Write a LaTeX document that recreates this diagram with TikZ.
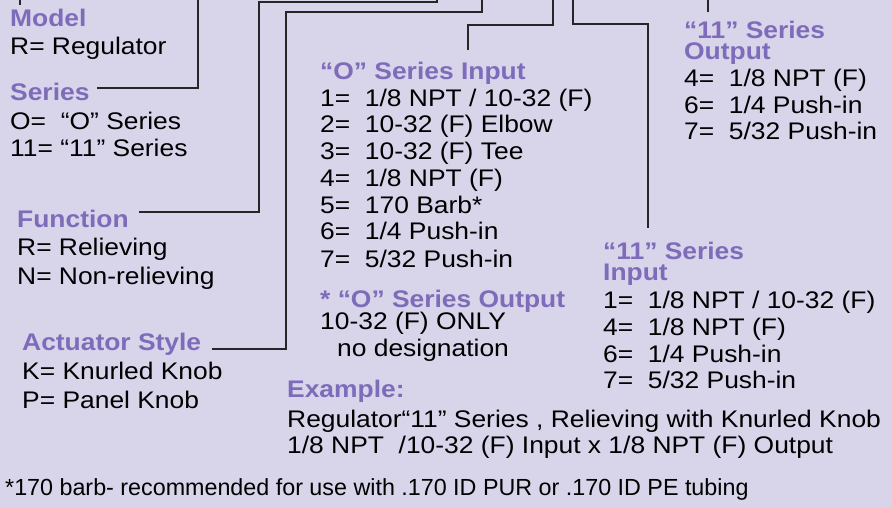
\documentclass[tikz,border=0pt]{standalone}
\usepackage{fontspec}
\setmainfont{Liberation Sans}[FakeStretch=1.1]
\newfontfamily\footfont{Liberation Sans}
\definecolor{bgc}{RGB}{216,212,234}
\definecolor{hdc}{RGB}{126,108,186}
\begin{document}
\begin{tikzpicture}[x=1pt,y=-1pt,
  txt/.style={anchor=base west, inner sep=0pt, font=\fontsize{24}{27}\selectfont},
  hd/.style={anchor=base west, inner sep=0pt, font=\fontsize{24}{21}\selectfont\bfseries, text=hdc},
  hdtwo/.style={hd, align=left},
  conn/.style={line width=1.3pt, draw=black!85}]
\fill[bgc] (0,0) rectangle (892,508);
\useasboundingbox (0,0) rectangle (892,508);
% left column
\node[hd]  (model)  at (10,27)  {Model};
\node[txt] (m1)     at (10,55)  {R= Regulator};
\node[hd]  (series) at (10,101) {Series};
\node[txt] (s1)     at (10,130) {O=\ \ “O” Series};
\node[txt] (s2)     at (10,157) {11= “11” Series};
\node[hd]  (func)   at (17,227) {Function};
\node[txt] (f1)     at (17,255) {R= Relieving};
\node[txt] (f2)     at (17,284) {N= Non-relieving};
\node[hd]  (act)    at (22,350) {Actuator Style};
\node[txt] (a1)     at (22,379) {K= Knurled Knob};
\node[txt] (a2)     at (22,408) {P= Panel Knob};
% middle column
\node[hd]  (oin)  at (320,80)  {“O” Series Input};
\node[txt] (oi1)  at (320,107) {1=\ \ 1/8 NPT / 10-32 (F)};
\node[txt] (oi2)  at (320,133) {2=\ \ 10-32 (F) Elbow};
\node[txt] (oi3)  at (320,160) {3=\ \ 10-32 (F) Tee};
\node[txt] (oi4)  at (320,186) {4=\ \ 1/8 NPT (F)};
\node[txt] (oi5)  at (320,213) {5=\ \ 170 Barb*};
\node[txt] (oi6)  at (320,240) {6=\ \ 1/4 Push-in};
\node[txt] (oi7)  at (320,267) {7=\ \ 5/32 Push-in};
\node[hd]  (oout) at (320,307) {* “O” Series Output};
\node[txt] (oo1)  at (320,329) {10-32 (F) ONLY};
\node[txt] (oo2)  at (337,356) {no designation};
\node[hd]  (ex)   at (287,397) {Example:};
\node[txt] (ex1)  at (287,427) {Regulator“11” Series , Relieving with Knurled Knob};
\node[txt] (ex2)  at (287,453) {1/8 NPT\ \ /10-32 (F) Input x 1/8 NPT (F) Output};
% right column
\node[hdtwo] (eout)  at (684,60)  {“11” Series\\Output};
\node[txt] (eo1)   at (684,87)  {4=\ \ 1/8 NPT (F)};
\node[txt] (eo2)   at (684,114) {6=\ \ 1/4 Push-in};
\node[txt] (eo3)   at (684,140) {7=\ \ 5/32 Push-in};
\node[hdtwo] (ein)   at (603,280) {“11” Series\\Input};
\node[txt] (ei1)   at (603,308) {1=\ \ 1/8 NPT / 10-32 (F)};
\node[txt] (ei2)   at (603,335) {4=\ \ 1/8 NPT (F)};
\node[txt] (ei3)   at (603,362) {6=\ \ 1/4 Push-in};
\node[txt] (ei4)   at (603,388) {7=\ \ 5/32 Push-in};
% footnote
\node[anchor=base west, inner sep=0pt, font=\footfont\fontsize{23.3}{27}\selectfont] (foot) at (5,495)
  {*170 barb- recommended for use with .170 ID PUR or .170 ID PE tubing};
% connectors
\coordinate (cm0) at (20,0);   \coordinate (cm1) at (20,5);
\coordinate (cs0) at (97,88);  \coordinate (cs1) at (198,0);
\coordinate (cf0) at (139,212); \coordinate (cf1) at (259,2); \coordinate (cf2) at (437,0);
\coordinate (ca0) at (212,349); \coordinate (ca1) at (286,12); \coordinate (ca2) at (482,0);
\coordinate (co0) at (468,50); \coordinate (co1) at (553,25); \coordinate (co2) at (553,0);
\coordinate (ci0) at (648,228); \coordinate (ci1) at (573,24); \coordinate (ci2) at (573,0);
\coordinate (ce0) at (708,12); \coordinate (ce1) at (708,0);
\draw[conn] (cm0) -- (cm1);
\draw[conn] (cs0) -| (cs1);
\draw[conn] (cf0) -| (cf1) -| (cf2);
\draw[conn] (ca0) -| (ca1) -| (ca2);
\draw[conn] (co0) |- (co1) -- (co2);
\draw[conn] (ci0) |- (ci1) -- (ci2);
\draw[conn] (ce0) -- (ce1);
\end{tikzpicture}
\end{document}
